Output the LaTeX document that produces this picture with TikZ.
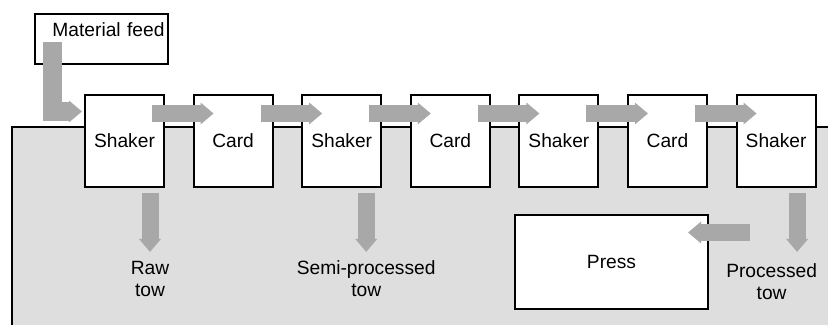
\documentclass[tikz,border=0pt]{standalone}
\usepackage{fontspec}
\setmainfont{Liberation Sans}
\usetikzlibrary{arrows.meta,positioning}
\definecolor{tubegray}{RGB}{168,168,168}
\definecolor{panelgray}{RGB}{222,222,222}

\begin{document}
\begin{tikzpicture}[x=1pt, y=1pt, node distance=13.8pt, line width=1pt,
    box/.style={rectangle, draw, fill=white, minimum width=39.5pt, minimum height=46pt, inner sep=0pt, font=\fontsize{9.6}{11}\selectfont},
    lbl/.style={align=center, inner sep=1pt, font=\fontsize{9.6}{11}\selectfont},
    flow/.style={draw=tubegray, line width=8.5pt, -{Triangle[width=10.5pt,length=6.5pt]}}]

    \useasboundingbox (0,0) rectangle (414,165);
    \fill [panelgray] (6,2.5) rectangle (416,101.5);
    \draw [line width=0.8pt] (6,2.5) -- (6,101.5) -- (416,101.5);

    \node [box, minimum width=66.5pt, minimum height=25pt, text width=63pt, align=right, inner xsep=1.75pt, text height=7pt, text depth=9.5pt] (feed) at (50.75,145.5) {Material feed};

    \node [box] (s1) at (62.25,94.5) {Shaker};
    \node [box, right=of s1] (c1) {Card};
    \node [box, right=of c1] (s2) {Shaker};
    \node [box, right=of s2] (c2) {Card};
    \node [box, right=of c2] (s3) {Shaker};
    \node [box, right=of s3] (c3) {Card};
    \node [box, right=of c3] (s4) {Shaker};
    \node [box, minimum width=96.5pt, minimum height=47pt] (press) at (305.75,34) {Press};

    \node [lbl, below=35pt of s1, xshift=12.75pt] (raw) {Raw\\tow};
    \node [lbl, below=35pt of s2, xshift=12.25pt] (semi) {Semi-processed\\tow};
    \node [lbl, below=36.5pt of s4, xshift=-2.25pt] (proc) {Processed\\tow};
    \coordinate (drop) at ([xshift=10.5pt]s4.south);

    \path [flow, line width=9.5pt] ([xshift=9.25pt,yshift=-1.5pt]feed.west) |- ([xshift=-1pt,yshift=14.75pt]s1.west);
    \path [flow] ([xshift=-6.5pt,yshift=-9.75pt]s1.north east) -- ([xshift=10.5pt,yshift=-9.75pt]c1.north west);
    \path [flow] ([xshift=-6.5pt,yshift=-9.75pt]c1.north east) -- ([xshift=10.5pt,yshift=-9.75pt]s2.north west);
    \path [flow] ([xshift=-6.5pt,yshift=-9.75pt]s2.north east) -- ([xshift=10.5pt,yshift=-9.75pt]c2.north west);
    \path [flow] ([xshift=-6.5pt,yshift=-9.75pt]c2.north east) -- ([xshift=10.5pt,yshift=-9.75pt]s3.north west);
    \path [flow] ([xshift=-6.5pt,yshift=-9.75pt]s3.north east) -- ([xshift=10.5pt,yshift=-9.75pt]c3.north west);
    \path [flow] ([xshift=-6.5pt,yshift=-9.75pt]c3.north east) -- ([xshift=10.5pt,yshift=-9.75pt]s4.north west);

    \path [flow, shorten <=2.5pt, shorten >=3pt] (s1.south -| raw.north) -- (raw.north);
    \path [flow, shorten <=2.5pt, shorten >=3pt] (s2.south -| semi.north) -- (semi.north);
    \path [flow, shorten <=2.5pt, shorten >=4.5pt] (drop) -- (drop |- proc.north);
    \path [flow] ([xshift=20.5pt,yshift=14.75pt]press.east) -- ([xshift=-10.5pt,yshift=14.75pt]press.east);

\end{tikzpicture}
\end{document}
